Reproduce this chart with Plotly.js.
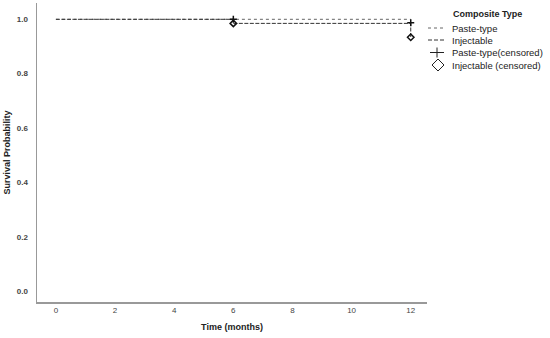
<!DOCTYPE html>
<html>
<head>
<script src="https://cdn.plot.ly/plotly-3.0.1.min.js"></script>
<style>body{margin:0;background:#fff}</style>
</head>
<body>
<div id="tester" style="width:550px;height:338px"></div>
<script>
var myDiv = document.getElementById('tester');

// step curves (months, survival)
var pasteTime = [0, 12];
var pasteSurv = [1.0, 1.0];
var injTime = [0, 6, 6, 12, 12];
var injSurv = [1.0, 1.0, 0.985, 0.985, 0.934];

// censored observations
var pasteCensTime = [6, 12];
var pasteCensSurv = [1.0, 0.987];
var injCensTime = [6, 12];
var injCensSurv = [0.985, 0.934];

var xTicks = [0, 2, 4, 6, 8, 10, 12];
var yTicks = [0.0, 0.2, 0.4, 0.6, 0.8, 1.0];

var legendTitle = 'Composite Type';
var legendNames = ['Paste-type', 'Injectable', 'Paste-type(censored)', 'Injectable (censored)'];

var font = 'Liberation Sans, Arial, sans-serif';

var trace1 = {
  x: pasteTime, y: pasteSurv, name: legendNames[0],
  mode: 'lines', type: 'scatter',
  line: {color: '#666', width: 1, dash: 'dot'}
};
var trace2 = {
  x: injTime, y: injSurv, name: legendNames[1],
  mode: 'lines', type: 'scatter',
  line: {color: '#333', width: 1, dash: '4px,1.5px'}
};
var trace3 = {
  x: pasteCensTime, y: pasteCensSurv, name: legendNames[2],
  mode: 'markers', type: 'scatter',
  marker: {symbol: 'cross-thin', size: 5, color: '#111', line: {color: '#111', width: 1.5}}
};
var trace4 = {
  x: injCensTime, y: injCensSurv, name: legendNames[3],
  mode: 'markers', type: 'scatter',
  marker: {symbol: 'diamond-open', size: 5, color: '#111', line: {color: '#111', width: 1.5}}
};

var data = [trace1, trace2, trace3, trace4];

// hand-made legend (Plotly's own rows are too tall), pixel -> paper helpers
var L = 37, R = 427, T = 3, B = 302;
function px(x) { return (x - L) / (R - L); }
function py(y) { return (B - y) / (B - T); }

var rowY = [28, 40, 52.5, 65];
var annotations = [{
  xref: 'paper', yref: 'paper', x: px(451), y: py(14), xanchor: 'left', yanchor: 'middle',
  text: '<b>' + legendTitle + '</b>', showarrow: false, font: {size: 9, color: '#222'}
}];
legendNames.forEach(function (n, i) {
  annotations.push({
    xref: 'paper', yref: 'paper', x: px(450), y: py(rowY[i]), xanchor: 'left', yanchor: 'middle',
    text: n, showarrow: false, font: {size: 9.5, color: '#222'}
  });
});

var shapes = [
  {type: 'line', xref: 'paper', yref: 'paper', x0: px(428), x1: px(446), y0: py(rowY[0]), y1: py(rowY[0]),
   line: {color: '#666', width: 1, dash: 'dot'}},
  {type: 'line', xref: 'paper', yref: 'paper', x0: px(428), x1: px(446), y0: py(rowY[1]), y1: py(rowY[1]),
   line: {color: '#333', width: 1, dash: '4px,2px'}},
  {type: 'line', xref: 'paper', yref: 'paper', x0: px(430), x1: px(444), y0: py(rowY[2]), y1: py(rowY[2]),
   line: {color: '#222', width: 1}},
  {type: 'line', xref: 'paper', yref: 'paper', x0: px(437), x1: px(437), y0: py(rowY[2] - 5), y1: py(rowY[2] + 5),
   line: {color: '#222', width: 1}},
  {type: 'path', xref: 'paper', yref: 'paper',
   path: 'M ' + px(438) + ',' + py(rowY[3] - 6) + ' L ' + px(444) + ',' + py(rowY[3]) +
         ' L ' + px(438) + ',' + py(rowY[3] + 6) + ' L ' + px(432) + ',' + py(rowY[3]) + ' Z',
   line: {color: '#222', width: 1}}
];

var layout = {
  width: 550, height: 338,
  margin: {l: L, r: 550 - R, t: T, b: 338 - B},
  paper_bgcolor: '#fff', plot_bgcolor: '#fff',
  font: {family: font, size: 8, color: '#333'},
  showlegend: false,
  annotations: annotations,
  shapes: shapes,
  xaxis: {
    range: [-0.64, 12.55], tickvals: xTicks, ticktext: xTicks.map(String),
    showgrid: false, zeroline: false, showline: true, linecolor: '#999', linewidth: 1.5,
    ticks: '', tickfont: {size: 8, color: '#444'},
    title: {text: '<b>Time (months)</b>', font: {size: 9, color: '#222'}, standoff: 9}
  },
  yaxis: {
    range: [-0.04, 1.06], tickvals: yTicks, ticktext: yTicks.map(function (v) { return '<b>' + v.toFixed(1) + '</b>'; }),
    showgrid: false, zeroline: false, showline: true, linecolor: '#999', linewidth: 1.5,
    ticks: '', tickfont: {size: 8, color: '#444'}, ticklabelstandoff: 6,
    title: {text: '<b>Survival Probability</b>', font: {size: 9, color: '#222'}, standoff: 4}
  }
};

Plotly.newPlot(myDiv, data, layout, {displayModeBar: false, staticPlot: true});
</script>
</body>
</html>
